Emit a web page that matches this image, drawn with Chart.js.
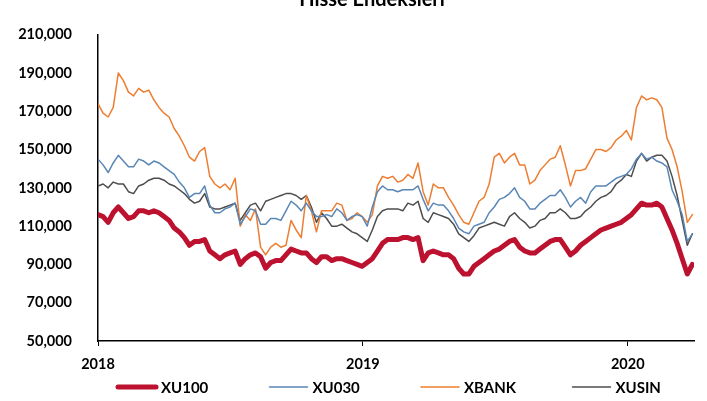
<!DOCTYPE html>
<html>
<head>
<meta charset="utf-8">
<script src="https://cdn.jsdelivr.net/npm/chart.js@4.4.1/dist/chart.umd.min.js"></script>
<style>
  html, body { margin: 0; padding: 0; background: #fff; }
  #wrap { width: 707px; height: 401px; position: relative; }
</style>
</head>
<body>
<div id="wrap"><canvas id="endeks"></canvas></div>
<script>
// weekly closes, thousands of points, starting first week of 2018
const startYear = 2018;
const seriesNames = ['XU100', 'XU030', 'XBANK', 'XUSIN'];
const seriesColors = ['#BC1230', '#5A86B6', '#ED7D31', '#4D4D4D'];

const xu100 = [116, 115, 112, 117, 120, 117, 114, 115, 118, 118, 117, 118, 117, 115, 113, 109, 107, 104, 100, 102,
  102, 103, 97, 95, 93, 95, 96, 97, 90, 93, 95, 96, 94, 88, 91, 92, 92, 95, 98, 97,
  96, 96, 93, 91, 94, 94, 92, 93, 93, 92, 91, 90, 89, 91, 93, 97, 101, 103, 103, 103,
  104, 104, 103, 104, 92, 96, 97, 96, 95, 95, 93, 88, 85, 85, 89, 91, 93, 95, 97, 98,
  100, 102, 103, 99, 97, 96, 96, 98, 100, 102, 103, 103, 99, 95, 97, 100, 102, 104, 106, 108,
  109, 110, 111, 112, 114, 116, 119, 122, 121, 121, 122, 120, 114, 108, 101, 93, 85, 90];

const xu030 = [145, 142, 138, 143, 147, 144, 141, 141, 145, 144, 142, 144, 143, 141, 139, 137, 133, 130, 125, 127,
  127, 131, 121, 117, 117, 119, 120, 122, 111, 115, 119, 118, 111, 111, 114, 114, 113, 118, 123, 121,
  118, 122, 118, 115, 115, 116, 115, 119, 117, 113, 115, 116, 115, 110, 120, 128, 131, 129, 129, 128,
  129, 129, 129, 131, 124, 118, 122, 121, 121, 118, 114, 109, 107, 106, 110, 111, 112, 117, 120, 124,
  125, 127, 130, 125, 123, 119, 119, 122, 124, 126, 126, 129, 125, 120, 123, 125, 122, 128, 131, 131,
  131, 133, 135, 136, 137, 140, 145, 148, 145, 146, 144, 143, 141, 129, 123, 116, 102, 106];

const xbank = [174, 169, 167, 172, 190, 186, 180, 178, 182, 180, 181, 176, 172, 169, 167, 161, 157, 152, 146, 144,
  149, 151, 136, 132, 130, 132, 129, 135, 110, 116, 113, 119, 99, 95, 99, 101, 99, 100, 113, 108,
  104, 126, 118, 107, 118, 118, 118, 122, 121, 113, 114, 117, 115, 112, 116, 131, 136, 135, 136, 133,
  134, 137, 135, 143, 128, 121, 132, 130, 130, 125, 121, 116, 112, 111, 117, 123, 125, 132, 146, 148,
  143, 146, 148, 142, 142, 132, 134, 139, 142, 145, 146, 152, 142, 131, 139, 139, 140, 145, 150, 150,
  149, 151, 155, 157, 160, 155, 172, 178, 176, 177, 176, 172, 156, 150, 141, 128, 112, 116];

const xusin = [131, 132, 130, 133, 132, 132, 128, 127, 131, 132, 134, 135, 135, 134, 132, 131, 129, 127, 124, 122,
  123, 127, 120, 119, 119, 120, 121, 122, 113, 117, 121, 122, 118, 123, 124, 125, 126, 127, 127, 126,
  124, 126, 120, 112, 117, 114, 110, 110, 111, 109, 107, 106, 104, 102, 108, 115, 118, 119, 119, 119,
  118, 122, 121, 123, 114, 112, 117, 116, 115, 114, 111, 106, 104, 102, 105, 109, 110, 111, 112, 111,
  110, 115, 117, 114, 112, 109, 110, 113, 114, 117, 117, 119, 117, 114, 114, 115, 118, 120, 123, 125,
  126, 128, 132, 134, 137, 136, 144, 148, 144, 146, 147, 147, 144, 136, 126, 113, 100, 106];

const yearTicks = [2018, 2019, 2020];

const allSeries = [xu100, xu030, xbank, xusin];
const lineWidths = [5, 1.5, 1.5, 1.5];

function toPoints(values) {
  return values.map((v, i) => ({ x: startYear + i * 7 / 365, y: v * 1000 }));
}

const datasets = allSeries.map((values, k) => ({
  label: seriesNames[k],
  data: toPoints(values),
  borderColor: seriesColors[k],
  backgroundColor: seriesColors[k],
  borderWidth: lineWidths[k],
  borderJoinStyle: 'round',
  borderCapStyle: 'round',
  pointRadius: 0,
  tension: 0,
  fill: false
}));

const fontFamily = 'Lato, "Liberation Sans", sans-serif';

// title is clipped at the top edge and legend uses wide even spacing,
// so both are drawn here by hand
const extras = {
  id: 'extras',
  afterDraw(chart) {
    const ctx = chart.ctx;
    ctx.save();
    ctx.fillStyle = '#000';
    ctx.font = 'bold 20px ' + fontFamily;
    ctx.textAlign = 'center';
    ctx.textBaseline = 'alphabetic';
    ctx.fillText('Hisse Endeksleri', 372, 6);

    const y = 387;
    ctx.font = 'bold 15px ' + fontFamily;
    ctx.textAlign = 'left';
    ctx.textBaseline = 'middle';
    chart.data.datasets.forEach((ds, k) => {
      const x0 = 118 + k * 151.5;
      ctx.strokeStyle = ds.borderColor;
      ctx.lineWidth = ds.borderWidth;
      ctx.lineCap = 'round';
      ctx.beginPath();
      ctx.moveTo(x0, y);
      ctx.lineTo(x0 + 38, y);
      ctx.stroke();
      ctx.fillStyle = '#000';
      ctx.fillText(ds.label, x0 + 43, y + 1);
    });
    ctx.restore();
  }
};

const chart = new Chart(document.getElementById('endeks'), {
  type: 'line',
  data: { datasets: datasets },
  options: {
    responsive: true,
    maintainAspectRatio: false,
    animation: false,
    layout: { padding: { left: 0, right: 13, top: 16, bottom: 28 } },
    plugins: {
      legend: { display: false },
      title: { display: false },
      tooltip: { enabled: false }
    },
    scales: {
      x: {
        type: 'linear',
        min: 2018,
        max: 2020.25,
        afterFit: (s) => { s.height = 32; },
        afterBuildTicks: (s) => { s.ticks = yearTicks.map(v => ({ value: v })); },
        grid: { display: true, drawOnChartArea: false, drawTicks: true, tickLength: 5, color: '#000' },
        border: { display: true, color: '#000', width: 1.5 },
        ticks: {
          padding: 10,
          color: '#000',
          font: { family: fontFamily, size: 14.5, weight: 'bold' },
          maxRotation: 0,
          callback: (v) => String(v)
        }
      },
      y: {
        min: 50000,
        max: 210000,
        afterFit: (s) => { s.width = 98; },
        grid: { display: false, drawTicks: false },
        border: { display: true, color: '#000', width: 1.5 },
        ticks: {
          stepSize: 20000,
          padding: 26,
          color: '#000',
          font: { family: fontFamily, size: 14.5, weight: 'bold' },
          callback: (v) => v.toLocaleString('en-US')
        }
      }
    }
  },
  plugins: [extras]
});
</script>
</body>
</html>
